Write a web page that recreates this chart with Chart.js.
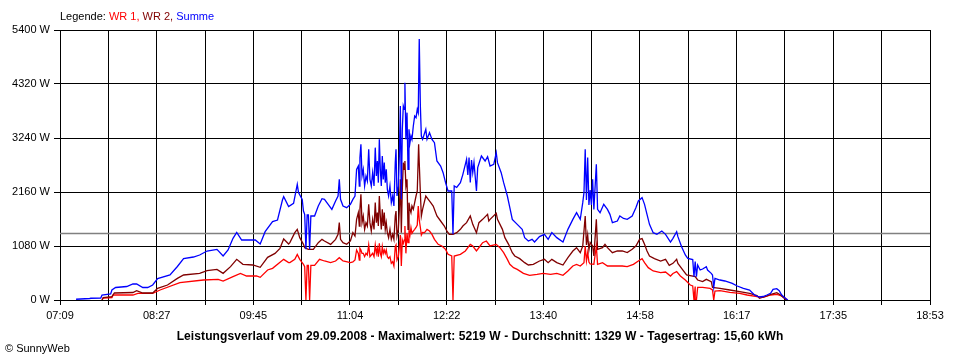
<!DOCTYPE html>
<html>
<head>
<meta charset="utf-8">
<script src="https://cdn.jsdelivr.net/npm/chart.js@4/dist/chart.umd.min.js"></script>
<style>
  html, body { margin: 0; padding: 0; background: #fff; }
  #wrap { position: relative; width: 960px; height: 360px; overflow: hidden; font-family: "Liberation Sans", Arial, sans-serif; }
  #c { position: absolute; left: 0; top: 0; }
  .txt { position: absolute; white-space: nowrap; font-size: 11px; line-height: 13px; color: #000; }
  #legend { left: 60px; top: 10px; }
  #footer { left: 0; width: 960px; text-align: center; top: 330px; font-weight: bold; font-size: 12px; letter-spacing: 0.1px; }
  #copy { left: 5px; top: 342px; }
</style>
</head>
<body>
<div id="wrap">
  <canvas id="c" width="960" height="360"></canvas>
  <div id="legend" class="txt">Legende: <span style="color:#ff0000">WR 1,</span> <span style="color:#800000">WR 2,</span> <span style="color:#0000ff">Summe</span></div>
  <div id="footer" class="txt">Leistungsverlauf vom 29.09.2008 - Maximalwert: 5219 W - Durchschnitt: 1329 W - Tagesertrag: 15,60 kWh</div>
  <div id="copy" class="txt">© SunnyWeb</div>
</div>
<script>
const xLabels = ["07:09","08:27","09:45","11:04","12:22","13:40","14:58","16:17","17:35","18:53"];
const yTicks = [0, 1080, 2160, 3240, 4320, 5400];
const averageW = 1329;

// WR 1 (time, W)
const wr1 = [
["07:43",0],["07:44",40],["07:51",50],["07:52",100],["08:08",100],["08:12",133],["08:24",133],["08:30",200],
["08:46",347],["09:05",400],["09:17",413],["09:21",380],["09:29",467],["09:35",533],["09:40",480],["09:48",480],
["09:51",453],["09:57",600],["10:01",633],["10:10",813],["10:14",747],["10:15",747],["10:19",813],["10:21",913],
["10:23",813],["10:26",713],["10:27",667],["10:28",0],["10:29",690],["10:30",690],["10:31",0],["10:32",693],
["10:35",693],["10:39",813],["10:43",780],["10:48",747],["10:52",780],["10:55",847],["10:58",780],["11:04",747],
["11:06",760],
["11:07:42",800],["11:09:00",1000],["11:10:24",933],["11:11:12",800],["11:11:42",1033],["11:12:30",1000],["11:13:24",933],
["11:14:24",933],["11:15:30",867],["11:16:36",933],["11:17:42",900],["11:18:48",1100],["11:19:48",867],["11:20:54",900],
["11:22:00",933],["11:23:06",867],["11:24:06",1100],["11:25:00",933],["11:25:48",1033],["11:26:36",867],["11:27:24",1133],
["11:28:12",933],["11:29:00",867],["11:29:48",1067],["11:30:36",933],["11:31:24",1000],["11:32:12",933],["11:33:00",1000],
["11:33:54",867],["11:34:54",833],["11:36:00",867],["11:37:06",733],["11:38:12",767],["11:39:12",680],["11:40:18",1067],
["11:40:54",1100],["11:41:42",800],["11:42:48",867],["11:43:36",1067],["11:44:24",1300],["11:45:12",680],["11:46:00",1200],
["11:46:48",1133],["11:47:36",1200],["11:48:06",1480],["11:48:54",933],["11:49:48",1333],["11:50:36",1147],["11:51:24",1400],
["11:52:12",1300],["11:53:00",1450],["11:53:48",1333],["11:54:54",1380],["11:56:00",1413],["11:57:06",1450],["11:58:06",1500],
["11:58:54",1880],["11:59:42",1600],["12:00:36",1450],["12:01:24",1300],["12:02:24",1350],
["12:04",1347],["12:06",1413],["12:08",1380],["12:10",1313],["12:12",1213],
["12:15",1113],["12:18",1080],["12:21",1013],["12:23",913],["12:26",880],["12:27",0],["12:28",880],["12:33",913],
["12:37",980],["12:41",1113],["12:43",1080],["12:46",980],["12:49",1080],["12:51",1147],["12:54",1180],["12:57",1080],
["13:02",1113],["13:05",1047],["13:08",947],["13:11",813],["13:13",713],["13:16",647],["13:19",613],["13:24",533],
["13:29",493],["13:35",513],["13:40",533],["13:46",513],["13:51",533],["13:56",493],["14:00",580],["14:04",680],
["14:07",713],["14:10",680],["14:13",747],["14:14",1080],["14:15",780],["14:16",950],["14:17",760],["14:18",720],
["14:21",713],["14:23",1080],["14:24",713],["14:28",747],["14:32",680],["14:36",680],["14:40",680],["14:44",680],
["14:48",667],["14:53",713],["14:57",780],["15:00",827],["15:02",747],["15:05",647],["15:09",580],["15:15",547],
["15:19",560],["15:23",480],["15:25",530],["15:28",567],["15:31",480],["15:35",400],["15:39",300],["15:41",280],
["15:42",0],["15:43",270],["15:43",0],["15:44",0],["15:45",253],["15:49",253],["15:55",233],["15:57",200],
["15:58",0],["15:59",180],["16:03",187],["16:11",153],["16:19",133],["16:25",100],["16:33",67],["16:38",53],
["16:44",100],["16:49",113],["16:53",80],["16:56",33],["16:57",0]
];

// WR 2 (time, W)
const wr2 = [
["07:43",0],["07:44",50],["07:51",67],["07:53",140],["08:08",150],["08:11",187],["08:16",140],["08:24",140],
["08:28",233],["08:36",300],["08:44",433],["08:49",500],["09:02",533],["09:08",587],["09:16",613],["09:21",533],
["09:27",667],["09:32",813],["09:37",713],["09:45",700],["09:51",653],["09:57",853],["10:03",933],["10:07",1033],
["10:10",1220],["10:14",1120],["10:15",1147],["10:19",1347],["10:21",1413],["10:23",1247],["10:26",1113],["10:27",1047],
["10:30",1013],["10:34",1013],["10:38",1147],["10:41",1213],["10:43",1180],["10:48",1113],["10:52",1213],["10:54",1313],
["10:55",1547],["10:56",1213],["10:58",1147],["11:01",1113],["11:04",1180],["11:06",1347],
["11:07:42",1280],["11:09:00",1613],["11:10:24",1747],["11:11:12",1480],["11:11:42",1813],["11:12:30",2113],["11:13:24",1547],
["11:14:24",1680],["11:15:30",1413],["11:16:36",1547],["11:17:42",1480],["11:18:48",1913],["11:19:48",1547],["11:20:54",1380],
["11:22:00",1613],["11:23:06",1413],["11:24:06",1947],["11:25:00",1547],["11:25:48",1747],["11:26:36",1480],["11:27:24",2080],
["11:28:12",1680],["11:29:00",1413],["11:29:48",1813],["11:30:36",1480],["11:31:24",1747],["11:32:12",1413],["11:33:00",1547],
["11:33:54",1347],["11:34:54",1247],["11:36:00",1413],["11:37:06",1213],["11:38:12",1313],["11:39:12",1213],["11:40:18",1680],
["11:40:54",1780],["11:41:42",1280],["11:42:48",1413],["11:43:36",1813],["11:44:24",2413],["11:45:12",1347],["11:46:00",2213],
["11:46:48",2747],["11:47:36",2613],["11:48:06",2780],["11:48:54",2280],["11:49:48",2413],["11:50:36",1413],["11:51:24",1947],
["11:52:12",1813],["11:53:00",1747],["11:53:48",1880],["11:54:54",1813],["11:56:00",1947],["11:57:06",2080],["11:58:06",2180],
["11:59:12",3113],["11:59:42",2747],["12:00:36",2147],["12:01:24",1680],["12:02:24",1813],
["12:05",2080],["12:07",2013],["12:09",1947],["12:11",1880],["12:14",1680],["12:17",1580],["12:20",1480],["12:22",1380],["12:24",1313],
["12:27",1313],["12:30",1347],["12:33",1413],["12:35",1480],["12:38",1547],["12:41",1680],["12:43",1513],["12:46",1347],
["12:48",1547],["12:51",1613],["12:55",1713],["12:56",1580],["12:57",1613],["13:02",1733],["13:03",1613],["13:07",1413],
["13:09",1247],["13:12",1113],["13:15",947],["13:17",880],["13:21",827],["13:25",747],["13:28",700],["13:32",713],
["13:37",780],["13:41",813],["13:44",747],["13:47",813],["13:51",747],["13:56",700],["14:00",847],["14:04",980],
["14:07",1047],["14:10",947],["14:12",1080],["14:14",1680],["14:15",1100],["14:16",1300],["14:17",1000],["14:18",1150],
["14:20",1080],["14:21",880],["14:23",1613],["14:24",1013],["14:28",1047],["14:30",1113],["14:32",1047],["14:36",947],
["14:40",980],["14:44",980],["14:48",947],["14:52",1013],["14:55",1080],["14:58",1213],["15:00",1227],["15:02",1113],
["15:04",980],["15:06",880],["15:10",827],["15:15",780],["15:19",813],["15:22",693],["15:25",733],["15:28",813],
["15:29",733],["15:32",633],["15:36",500],["15:43",467],["15:45",400],["15:49",367],["15:52",413],["15:56",367],
["15:57",253],["16:03",233],["16:11",200],["16:19",167],["16:27",133],["16:33",87],["16:35",33],["16:41",80],
["16:45",120],["16:49",147],["16:52",100],["16:55",33],["16:57",0]
];

// Summe (time, W)
const summe = [
["07:22",15],["07:33",30],["07:34",35],["07:42",40],["07:43",100],["07:50",120],["07:51",200],["07:54",250],
["08:03",270],["08:08",320],["08:11",320],["08:16",250],["08:20",250],["08:24",300],["08:28",430],["08:38",500],
["08:44",670],["08:49",830],["08:57",860],["09:02",900],["09:08",980],["09:16",1013],["09:21",880],["09:25",1000],
["09:29",1233],["09:32",1353],["09:36",1200],["09:47",1200],["09:51",1120],["09:55",1367],["10:01",1567],["10:05",1600],
["10:09",2000],["10:10",2067],["10:14",1867],["10:18",1933],["10:21",2313],["10:22",2147],["10:25",2013],["10:26",1780],
["10:27",1713],["10:28",1013],["10:29",1700],["10:30",1700],["10:31",1013],["10:32",1680],["10:35",1680],["10:38",1880],
["10:41",2027],["10:43",2013],["10:46",1913],["10:49",1813],["10:52",1980],["10:54",2080],["10:55",2413],["10:56",2013],
["10:58",1880],["11:01",1847],["11:04",1913],["11:06",2013],
["11:07:42",2080],["11:09:00",2613],["11:10:24",2680],["11:11:12",2280],["11:11:42",2847],["11:12:30",3113],["11:13:24",2480],
["11:14:24",2613],["11:15:30",2280],["11:16:36",2480],["11:17:42",2380],["11:18:48",3013],["11:19:48",2413],["11:20:54",2280],
["11:22:00",2547],["11:23:06",2280],["11:24:06",3047],["11:25:00",2480],["11:25:48",2780],["11:26:36",2347],["11:27:24",3213],
["11:28:12",2613],["11:29:00",2280],["11:29:48",2880],["11:30:36",2413],["11:31:24",2747],["11:32:12",2347],["11:33:00",2613],
["11:33:54",2213],["11:34:54",2080],["11:36:00",2280],["11:37:06",1947],["11:38:12",2080],["11:39:12",1880],["11:40:18",2747],
["11:40:54",3013],["11:41:42",2080],["11:42:48",2280],["11:43:36",2880],["11:44:24",3880],["11:45:12",2013],["11:46:00",3413],
["11:46:48",3880],["11:47:36",3813],["11:48:06",4347],["11:48:54",3213],["11:49:48",3747],["11:50:36",2613],["11:51:24",3413],
["11:52:12",3147],["11:53:00",3280],["11:53:48",3213],["11:54:54",3480],["11:56:00",3680],["11:57:06",3647],["11:58:06",3813],
["11:58:54",3747],["11:59:42",5219],["12:00:36",3880],["12:01:24",3280],["12:02:24",3213],
["12:05",3413],["12:06",3213],
["12:08",3347],["12:10",3213],["12:12",3147],["12:14",2780],["12:17",2680],["12:19",2547],["12:21",2347],["12:23",2180],
["12:26",2180],["12:27",1313],["12:28",2280],["12:30",2250],["12:33",2347],["12:35",2513],["12:38",2813],["12:39",2500],
["12:40",2850],["12:41",2350],["12:42",2800],["12:43",2547],["12:44",2750],["12:46",2180],["12:47",2650],["12:50",2880],
["12:53",2780],["12:55",2867],["12:57",2680],["13:00",2713],["13:02",2947],["13:03",2747],["13:06",2547],["13:08",2347],
["13:11",2080],["13:13",1847],["13:15",1613],["13:19",1513],["13:23",1413],["13:25",1247],["13:28",1180],["13:31",1213],
["13:33",1160],["13:37",1267],["13:41",1313],["13:44",1213],["13:47",1347],["13:51",1247],["13:56",1160],["14:00",1413],
["14:04",1613],["14:07",1747],["14:10",1613],["14:12",1947],["14:13",2147],["14:14",3013],["14:15",2000],["14:16",2850],
["14:17",1900],["14:18",2200],["14:19",1900],["14:20",2413],["14:21",1813],["14:23",2713],["14:24",1813],["14:26",1747],
["14:29",1913],["14:32",1813],["14:34",1713],["14:36",1547],["14:40",1580],["14:42",1680],["14:45",1630],["14:48",1613],
["14:52",1680],["14:55",1847],["14:57",1980],["15:00",2047],["15:02",1913],["15:04",1713],["15:06",1513],["15:09",1347],
["15:12",1313],["15:16",1380],["15:19",1313],["15:23",1160],["15:25",1233],["15:28",1367],["15:29",1267],["15:32",1067],
["15:35",900],["15:37",833],["15:41",810],["15:42",467],["15:43",770],["15:44",467],["15:45",700],["15:47",600],
["15:49",620],["15:52",667],["15:53",600],["15:56",533],["15:57",500],["15:58",253],["15:59",433],["16:03",400],
["16:07",380],["16:13",333],["16:17",280],["16:22",233],["16:27",200],["16:31",100],["16:35",60],["16:38",70],
["16:41",100],["16:44",133],["16:46",213],["16:49",227],["16:51",187],["16:53",100],["16:56",33],["16:58",0]
];

function toMin(t) {
  const p = t.split(":").map(Number);
  return p[0] * 60 + p[1] + (p.length > 2 ? p[2] / 60 : 0);
}
function pts(arr) { return arr.map(d => ({ x: toMin(d[0]), y: d[1] })); }

const xMin = toMin(xLabels[0]);
const xMax = toMin(xLabels[xLabels.length - 1]);
const xDivisions = (xLabels.length - 1) * 2;
const yMax = yTicks[yTicks.length - 1];

const font = { family: '"Liberation Sans", Arial, sans-serif', size: 11 };

new Chart(document.getElementById("c"), {
  type: "line",
  data: {
    datasets: [
      { label: "Summe", data: pts(summe), borderColor: "#0000ff", borderWidth: 1.3, pointRadius: 0, order: 1 },
      { label: "WR 2", data: pts(wr2), borderColor: "#800000", borderWidth: 1.3, pointRadius: 0, order: 2 },
      { label: "WR 1", data: pts(wr1), borderColor: "#ff0000", borderWidth: 1.3, pointRadius: 0, order: 3 },
      { label: "Durchschnitt", data: [{ x: xMin, y: averageW }, { x: xMax, y: averageW }], borderColor: "#808080", borderWidth: 1.5, pointRadius: 0, order: 4 }
    ]
  },
  options: {
    responsive: false,
    animation: false,
    parsing: false,
    normalized: true,
    layout: { padding: { top: 30, right: 30, left: 0, bottom: 0 } },
    plugins: { legend: { display: false }, tooltip: { enabled: false }, title: { display: false } },
    elements: { line: { tension: 0, fill: false } },
    scales: {
      x: {
        type: "linear",
        min: xMin,
        max: xMax,
        afterBuildTicks: (s) => {
          const t = [];
          for (let k = 0; k <= xDivisions; k++) t.push({ value: xMin + k * (xMax - xMin) / xDivisions });
          s.ticks = t;
        },
        afterFit: (s) => { s.height = 60; },
        grid: { color: "#000", lineWidth: 1, drawTicks: true, tickLength: 5, tickColor: "#000" },
        border: { display: true, color: "#000", width: 1 },
        ticks: {
          autoSkip: false, maxRotation: 0, minRotation: 0, padding: 4, color: "#000", font: font,
          callback: (v, i) => (i % 2 === 0 ? xLabels[i / 2] : "")
        }
      },
      y: {
        type: "linear",
        min: 0,
        max: yMax,
        afterBuildTicks: (s) => { s.ticks = yTicks.map(v => ({ value: v })); },
        afterFit: (s) => { s.width = 60; },
        grid: { color: "#000", lineWidth: 1, drawTicks: true, tickLength: 6, tickColor: "#000" },
        border: { display: true, color: "#000", width: 1 },
        ticks: { padding: 4, color: "#000", font: font, callback: (v) => v + " W" }
      }
    }
  }
});
</script>
</body>
</html>
